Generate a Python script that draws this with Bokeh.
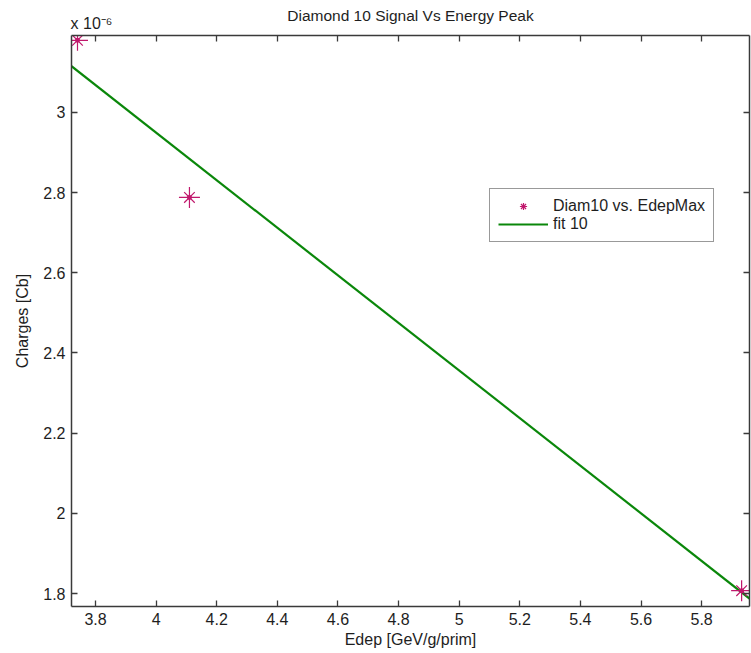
from bokeh.plotting import figure
from bokeh.models import (Range1d, LinearAxis, FixedTicker, Legend, LegendItem,
                          CustomJSTickFormatter)
from bokeh.embed import file_html
from bokeh.resources import INLINE

# data (charges in units of 1e-6 Cb)
edep = [3.7406, 4.110, 5.932]
charges = [3.180, 2.788, 1.807]
fit_x = [3.7208, 5.958]
fit_y = [3.1155, 1.7875]
x_ticks = [3.8, 4.0, 4.2, 4.4, 4.6, 4.8, 5.0, 5.2, 5.4, 5.6, 5.8]
y_ticks = [1.8, 2.0, 2.2, 2.4, 2.6, 2.8, 3.0]
x_range = (3.7208, 5.958)
y_range = (1.7676, 3.192)
title_text = "Diamond 10 Signal Vs Energy Peak"
scale_text = "x 10\u207b\u2076"

FONT = "Liberation Sans"
AX = "#3a3a3a"
TXT = "#1e1e1e"
STAR = "#c0186c"
GREEN = "#0a870a"

W, H = 751, 653
BL, BR, BT, BB = 71, 2, 35, 47

p = figure(width=W, height=H, output_backend="svg", toolbar_location=None,
           x_range=Range1d(*x_range), y_range=Range1d(*y_range),
           min_border_left=BL, min_border_top=BT, min_border_bottom=BB, min_border_right=BR)
p.grid.visible = False
p.outline_line_color = None
p.background_fill_color = "white"
p.border_fill_color = "white"

fmt = CustomJSTickFormatter(code="return (Math.round(tick*10)/10).toString();")
p.xaxis.ticker = FixedTicker(ticks=x_ticks)
p.yaxis.ticker = FixedTicker(ticks=y_ticks)
p.xaxis.formatter = fmt
p.yaxis.formatter = fmt
p.xaxis.axis_label = "Edep [GeV/g/prim]"
p.yaxis.axis_label = "Charges [Cb]"

for ax in p.xaxis + p.yaxis:
    ax.major_tick_in = 6
    ax.major_tick_out = 0
    ax.minor_tick_in = 0
    ax.minor_tick_out = 0
    ax.axis_line_color = AX
    ax.major_tick_line_color = AX
    ax.axis_line_width = 1.5
    ax.major_tick_line_width = 1.3
    ax.major_label_text_font = FONT
    ax.major_label_text_font_size = "16px"
    ax.major_label_text_color = TXT
    ax.axis_label_text_font = FONT
    ax.axis_label_text_font_size = "16px"
    ax.axis_label_text_font_style = "normal"
    ax.axis_label_text_color = TXT
p.xaxis.major_label_standoff = 6
p.yaxis.major_label_standoff = 6
p.xaxis.axis_label_standoff = 3
p.yaxis.axis_label_standoff = 9

# box ticks on top and right (no labels)
blank = CustomJSTickFormatter(code="return '';")
top = LinearAxis(ticker=FixedTicker(ticks=x_ticks), formatter=blank,
                 major_label_text_font_size="0px",
                 major_tick_in=6, major_tick_out=0, minor_tick_in=0, minor_tick_out=0,
                 axis_line_color=AX, major_tick_line_color=AX, axis_line_width=1.5,
                 major_tick_line_width=1.3, major_label_standoff=0)
right = LinearAxis(ticker=FixedTicker(ticks=y_ticks), formatter=blank,
                   major_label_text_font_size="0px",
                   major_tick_in=6, major_tick_out=0, minor_tick_in=0, minor_tick_out=0,
                   axis_line_color=AX, major_tick_line_color=AX, axis_line_width=1.5,
                   major_tick_line_width=1.3, major_label_standoff=0)
p.add_layout(top, "above")
p.add_layout(right, "right")

# scale factor label (as a tick label) and title (as the axis label) above the box
frame_w = W - BL - BR
scale_x = round(x_range[0] + 20 * (x_range[1] - x_range[0]) / frame_w, 4)
head = LinearAxis(ticker=FixedTicker(ticks=[scale_x]),
                  formatter=CustomJSTickFormatter(code="return label;", args=dict(label=scale_text)),
                  axis_line_color=None, major_tick_line_color=None,
                  major_tick_in=0, major_tick_out=0, minor_tick_in=0, minor_tick_out=0,
                  major_label_text_font=FONT, major_label_text_font_size="16px",
                  major_label_text_color=TXT, major_label_standoff=4,
                  axis_label=title_text, axis_label_text_font=FONT,
                  axis_label_text_font_size="15.5px", axis_label_text_font_style="normal",
                  axis_label_text_color=TXT, axis_label_standoff=-12)
p.add_layout(head, "above")

line_r = p.line(fit_x, fit_y, line_color=GREEN, line_width=2.2)
s1 = p.scatter(edep, charges, marker="cross", size=21, line_color=STAR, line_width=1.2)
s2 = p.scatter(edep, charges, marker="x", size=15, line_color=STAR, line_width=1.2)
s3 = p.scatter(edep, charges, marker="circle", size=4, fill_color=STAR, line_color=STAR)

legend = Legend(items=[LegendItem(label="Diam10 vs. EdepMax", renderers=[s1, s2]),
                       LegendItem(label="fit 10", renderers=[line_r])],
                location=(418, 364), orientation="vertical",
                label_text_font=FONT, label_text_font_size="16px", label_text_color=TXT,
                border_line_color="#333333", border_line_width=1.2,
                glyph_width=50, glyph_height=18, spacing=0, padding=8, margin=0,
                label_standoff=5, background_fill_alpha=1.0)
p.add_layout(legend, "center")

open("out.html", "w").write(file_html(p, INLINE))
